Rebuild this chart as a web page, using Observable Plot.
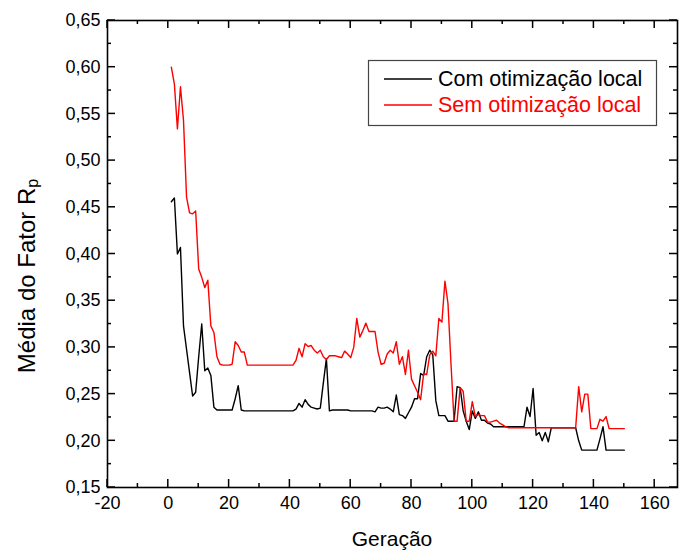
<!DOCTYPE html>
<html>
<head>
<meta charset="utf-8">
<script src="https://cdn.jsdelivr.net/npm/d3@7"></script>
<script src="https://cdn.jsdelivr.net/npm/@observablehq/plot@0.6"></script>
<style>
  html, body { margin: 0; padding: 0; background: #fff; }
  #chart { width: 679px; height: 554px; }
</style>
</head>
<body>
<div id="chart"></div>
<script>
// Generation 1..150
const comOtimizacao = [
  0.456, 0.460, 0.400, 0.407, 0.323, 0.298, 0.273, 0.248, 0.252, 0.290,
  0.325, 0.275, 0.278, 0.270, 0.236, 0.233, 0.233, 0.233, 0.233, 0.233,
  0.233, 0.245, 0.259, 0.233, 0.232, 0.232, 0.232, 0.232, 0.232, 0.232,
  0.232, 0.232, 0.232, 0.232, 0.232, 0.232, 0.232, 0.232, 0.232, 0.232,
  0.232, 0.234, 0.240, 0.236, 0.244, 0.239, 0.236, 0.235, 0.234, 0.235,
  0.262, 0.288, 0.232, 0.233, 0.233, 0.233, 0.233, 0.233, 0.233, 0.232,
  0.232, 0.232, 0.232, 0.232, 0.232, 0.232, 0.232, 0.231, 0.236, 0.235,
  0.235, 0.236, 0.234, 0.231, 0.249, 0.228, 0.227, 0.224, 0.230, 0.236,
  0.245, 0.245, 0.272, 0.270, 0.290, 0.297, 0.292, 0.243, 0.227, 0.227,
  0.227, 0.221, 0.221, 0.221, 0.258, 0.257, 0.232, 0.221, 0.212, 0.232,
  0.224, 0.231, 0.222, 0.222, 0.219, 0.218, 0.215, 0.215, 0.215, 0.215,
  0.215, 0.215, 0.215, 0.215, 0.215, 0.215, 0.215, 0.236, 0.226, 0.256,
  0.206, 0.209, 0.200, 0.209, 0.199, 0.214, 0.214, 0.214, 0.214, 0.214,
  0.214, 0.214, 0.214, 0.214, 0.200, 0.190, 0.190, 0.190, 0.190, 0.190,
  0.190, 0.202, 0.215, 0.190, 0.190, 0.190, 0.190, 0.190, 0.190, 0.190
];
const semOtimizacao = [
  0.600, 0.582, 0.534, 0.579, 0.543, 0.461, 0.444, 0.443, 0.446, 0.384,
  0.375, 0.364, 0.372, 0.323, 0.316, 0.290, 0.282, 0.281, 0.281, 0.281,
  0.282, 0.306, 0.302, 0.295, 0.295, 0.281, 0.281, 0.281, 0.281, 0.281,
  0.281, 0.281, 0.281, 0.281, 0.281, 0.281, 0.281, 0.281, 0.281, 0.281,
  0.281, 0.286, 0.299, 0.290, 0.304, 0.301, 0.302, 0.297, 0.294, 0.297,
  0.290, 0.287, 0.291, 0.291, 0.291, 0.290, 0.289, 0.296, 0.293, 0.289,
  0.300, 0.331, 0.311, 0.318, 0.326, 0.317, 0.317, 0.317, 0.295, 0.282,
  0.283, 0.293, 0.297, 0.294, 0.306, 0.282, 0.290, 0.271, 0.297, 0.266,
  0.259, 0.252, 0.244, 0.272, 0.271, 0.292, 0.296, 0.291, 0.331, 0.327,
  0.371, 0.347, 0.282, 0.221, 0.221, 0.257, 0.253, 0.221, 0.221, 0.242,
  0.226, 0.228, 0.227, 0.227, 0.220, 0.220, 0.221, 0.222, 0.219, 0.217,
  0.215, 0.214, 0.214, 0.214, 0.214, 0.214, 0.214, 0.214, 0.214, 0.214,
  0.214, 0.214, 0.214, 0.214, 0.214, 0.214, 0.214, 0.214, 0.214, 0.214,
  0.214, 0.214, 0.214, 0.214, 0.258, 0.231, 0.250, 0.250, 0.213, 0.213,
  0.213, 0.223, 0.221, 0.226, 0.213, 0.213, 0.213, 0.213, 0.213, 0.213
];
const seriesNames = ["Com otimização local", "Sem otimização local"];
const seriesColors = ["#000000", "#ff0000"];
const xTicks = [-20, 0, 20, 40, 60, 80, 100, 120, 140, 160];
const xMinorTicks = [-10, 10, 30, 50, 70, 90, 110, 130, 150];
const yTicks = [0.15, 0.20, 0.25, 0.30, 0.35, 0.40, 0.45, 0.50, 0.55, 0.60, 0.65];
const yMinorTicks = [0.175, 0.225, 0.275, 0.325, 0.375, 0.425, 0.475, 0.525, 0.575, 0.625];
const xTitle = "Geração";
const yTitle = "Média do Fator R";
const yTitleSub = "p";

const rows = [];
comOtimizacao.forEach((v, i) => rows.push({geracao: i + 1, valor: v, serie: seriesNames[0]}));
semOtimizacao.forEach((v, i) => rows.push({geracao: i + 1, valor: v, serie: seriesNames[1]}));

const fmtY = d => d.toFixed(2).replace(".", ",");
const fmtX = d => String(d);

const chart = Plot.plot({
  width: 679,
  height: 554,
  marginLeft: 107,
  marginRight: 2,
  marginTop: 20,
  marginBottom: 67,
  style: {fontFamily: "'Liberation Sans', Arial, sans-serif", fontSize: "18px", color: "#000", background: "#fff"},
  x: {domain: [-20, 167.5]},
  y: {domain: [0.15, 0.65]},
  color: {domain: seriesNames, range: seriesColors},
  marks: [
    Plot.line(rows, {x: "geracao", y: "valor", z: "serie", stroke: "serie", strokeWidth: 1.4}),
    Plot.frame({stroke: "#000", strokeWidth: 1.6}),
    Plot.axisX({anchor: "bottom", ticks: xTicks, tickSize: 0, tickPadding: 9, tickFormat: fmtX, label: null, fontSize: 18}),
    Plot.axisY({anchor: "left", ticks: yTicks, tickSize: 0, tickPadding: 7, tickFormat: fmtY, label: null, fontSize: 18})
  ]
});

document.getElementById("chart").appendChild(chart);

const svg = d3.select(chart);
const ff = "'Liberation Sans', Arial, sans-serif";
const sx = chart.scale("x");
const sy = chart.scale("y");
const [xl, xr] = sx.range;
const [yb, yt0] = sy.range;

// inward tick marks on all four sides, placed via the plot's scales
const tg = svg.append("g").attr("stroke", "#000").attr("stroke-width", 1.5);
function xTick(v, len) {
  const px = sx.apply(v);
  tg.append("line").attr("x1", px).attr("x2", px).attr("y1", yb).attr("y2", yb - len);
  tg.append("line").attr("x1", px).attr("x2", px).attr("y1", yt0).attr("y2", yt0 + len);
}
function yTick(v, len) {
  const py = sy.apply(v);
  tg.append("line").attr("y1", py).attr("y2", py).attr("x1", xl).attr("x2", xl + len);
  tg.append("line").attr("y1", py).attr("y2", py).attr("x1", xr).attr("x2", xr - len);
}
xTicks.forEach(v => xTick(v, 8));
xMinorTicks.forEach(v => xTick(v, 4));
yTicks.forEach(v => yTick(v, 8));
yMinorTicks.forEach(v => yTick(v, 4));

// X title
svg.append("text")
  .attr("x", 392).attr("y", 538)
  .attr("text-anchor", "middle").attr("dominant-baseline", "central")
  .attr("font-family", ff).attr("font-size", 21).attr("fill", "#000")
  .text(xTitle);

// Y title with subscript
const yt = svg.append("text")
  .attr("transform", "translate(26,276) rotate(-90)")
  .attr("text-anchor", "middle").attr("dominant-baseline", "central")
  .attr("font-family", ff).attr("font-size", 24).attr("fill", "#000");
yt.append("tspan").text(yTitle);
yt.append("tspan").attr("font-size", 16).attr("dy", 6).text(yTitleSub);

// Legend
const lg = svg.append("g");
lg.append("rect").attr("x", 368.5).attr("y", 60.5).attr("width", 288).attr("height", 65)
  .attr("fill", "#fff").attr("stroke", "#444").attr("stroke-width", 1.2);
seriesNames.forEach((name, i) => {
  const y = 79 + i * 26;
  lg.append("line").attr("x1", 384).attr("x2", 432).attr("y1", y).attr("y2", y)
    .attr("stroke", seriesColors[i]).attr("stroke-width", 1.4);
  lg.append("text").attr("x", 438).attr("y", y)
    .attr("text-anchor", "start")
    .attr("dominant-baseline", "central")
    .attr("font-family", ff).attr("font-size", 21.5).attr("fill", seriesColors[i])
    .text(name);
});
</script>
</body>
</html>
